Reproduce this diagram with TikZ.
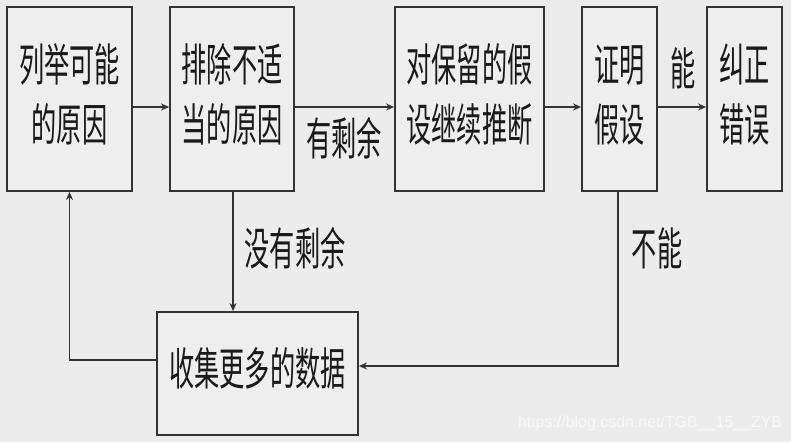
\documentclass[tikz,border=0pt]{standalone}
\usepackage{fontspec}
\usepackage{graphicx}
\newfontfamily\cjk{Noto Sans CJK SC}
\setmainfont{Liberation Sans}
\usetikzlibrary{arrows.meta}
\definecolor{bgc}{HTML}{ECECEC}
\definecolor{boxc}{HTML}{EEEEEE}
\definecolor{linec}{HTML}{333333}
\definecolor{txtc}{HTML}{1A1A1A}
\definecolor{wmc}{HTML}{F9F9F9}
\newcommand{\ztxt}[1]{\scalebox{0.56}[1]{\begin{tabular}{@{}c@{}}#1\end{tabular}}}
\tikzset{
  stepbox/.style={draw=linec, line width=1.8pt, fill=boxc, inner sep=0pt,
    text=txtc, font=\cjk\fontsize{45}{60}\selectfont},
  lbl/.style={inner sep=0pt, text=txtc, font=\cjk\fontsize{45}{60}\selectfont},
  arr/.style={draw=linec, line width=1.4pt, -{Stealth[length=8pt,width=7pt,inset=2.5pt]}},
  ln/.style={draw=linec, line width=1.4pt}
}
\begin{document}
\begin{tikzpicture}[x=1pt,y=-1pt]
\fill[bgc] (0,0) rectangle (791,442);
\useasboundingbox (0,0) rectangle (791,442);
\node[stepbox, minimum width=125pt, minimum height=184pt] (b1) at (69.5,99) {\ztxt{列举可能\\的原因}};
\node[stepbox, minimum width=124pt, minimum height=184pt] (b2) at (232,99) {\ztxt{排除不适\\当的原因}};
\node[stepbox, minimum width=149pt, minimum height=184pt] (b3) at (469.5,99) {\ztxt{对保留的假\\设继续推断}};
\node[stepbox, minimum width=75pt, minimum height=184pt] (b4) at (619.5,99) {\ztxt{证明\\假设}};
\node[stepbox, minimum width=75pt, minimum height=184pt] (b5) at (744.5,99) {\ztxt{纠正\\错误}};
\node[stepbox, minimum width=201pt, minimum height=123pt] (b6) at (257.5,373.5) {\ztxt{收集更多的数据}};
\draw[arr] ([yshift=-8pt]b1.east) -- ([yshift=-8pt]b2.west);
\draw[arr] ([yshift=-8pt]b2.east) -- ([yshift=-8pt]b3.west);
\draw[arr] ([yshift=-8pt]b3.east) -- ([yshift=-8pt]b4.west);
\draw[arr] ([yshift=-8pt]b4.east) -- ([yshift=-8pt]b5.west);
\draw[arr] ([xshift=1pt]b2.south) -- ([xshift=1pt]b2.south |- b6.north);
\draw[arr] ([xshift=-1.5pt]b4.south) |- ([yshift=7.5pt]b6.east);
\draw[arr] ([yshift=13.5pt]b6.west) -| (b1.south);
\node[lbl] (l1) at (344,143) {\ztxt{有剩余}};
\node[lbl] (l2) at (683,73) {\ztxt{能}};
\node[lbl] (l3) at (295,253) {\ztxt{没有剩余}};
\node[lbl] (l4) at (657,253) {\ztxt{不能}};
\node[inner sep=0pt, text=wmc, font=\fontsize{16}{18}\selectfont] (wm) at (650,423) {\resizebox{264pt}{!}{https://blog.csdn.net/TGB\_\_15\_\_ZYB}};
\end{tikzpicture}
\end{document}
